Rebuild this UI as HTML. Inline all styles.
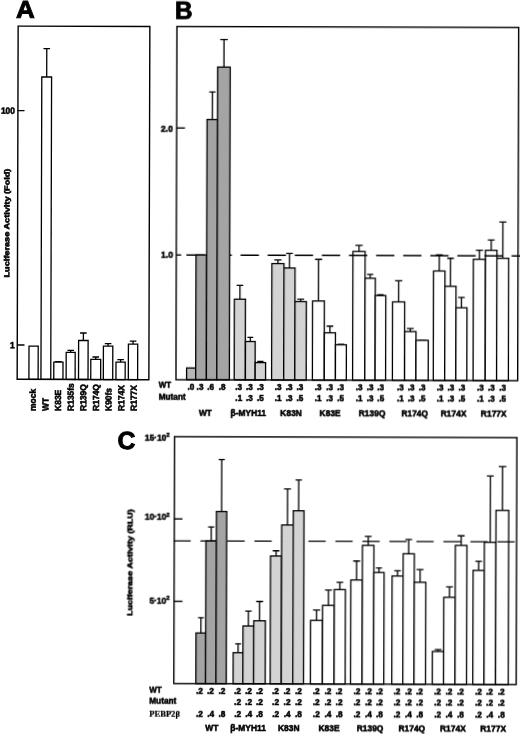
<!DOCTYPE html>
<html><head><meta charset="utf-8"><title>Figure</title>
<style>html,body{margin:0;padding:0;background:#fff}svg{display:block}text{fill:#000}</style>
</head><body>
<svg width="520" height="734" viewBox="0 0 520 734">
<rect width="520" height="734" fill="#fff"/>
<defs><filter id="soft" x="0" y="0" width="520" height="734" filterUnits="userSpaceOnUse"><feGaussianBlur stdDeviation="0.35"/></filter></defs>
<g filter="url(#soft)"><g transform="rotate(0.1604 260.0 367.0)">
<text transform="translate(15.02 18.38) scale(1.06 1)" font-size="24.5" text-anchor="start" font-weight="bold" font-family="'Liberation Sans', sans-serif" stroke="#000" stroke-width="0.9">A</text>
<rect x="28.95" y="346.83" width="9.20" height="33.17" fill="#ffffff" stroke="#000" stroke-width="1.3"/>
<text transform="translate(35.87 411.53) rotate(-90) scale(0.96 1)" font-size="8.8" text-anchor="start" font-weight="bold" font-family="'Liberation Sans', sans-serif" stroke="#000" stroke-width="0.55">mock</text>
<path d="M45.88 77.60V49.20M42.58 49.20H49.18" stroke="#000" stroke-width="1.3" fill="none"/><rect x="40.98" y="77.60" width="9.80" height="302.40" fill="#ffffff" stroke="#000" stroke-width="1.3"/>
<text transform="translate(48.50 411.49) rotate(-90) scale(0.96 1)" font-size="8.8" text-anchor="start" font-weight="bold" font-family="'Liberation Sans', sans-serif" stroke="#000" stroke-width="0.55">WT</text>
<path d="M58.39 362.76V362.16M55.09 362.16H61.69" stroke="#000" stroke-width="1.3" fill="none"/><rect x="53.79" y="362.76" width="9.20" height="17.24" fill="#ffffff" stroke="#000" stroke-width="1.3"/>
<text transform="translate(61.13 411.46) rotate(-90) scale(0.96 1)" font-size="8.8" text-anchor="start" font-weight="bold" font-family="'Liberation Sans', sans-serif" stroke="#000" stroke-width="0.55">K83E</text>
<path d="M70.66 352.93V350.83M67.36 350.83H73.96" stroke="#000" stroke-width="1.3" fill="none"/><rect x="66.16" y="352.93" width="9.00" height="27.07" fill="#ffffff" stroke="#000" stroke-width="1.3"/>
<text transform="translate(73.76 411.42) rotate(-90) scale(0.96 1)" font-size="8.8" text-anchor="start" font-weight="bold" font-family="'Liberation Sans', sans-serif" stroke="#000" stroke-width="0.55">R135fs</text>
<path d="M83.30 340.99V333.49M80.00 333.49H86.60" stroke="#000" stroke-width="1.3" fill="none"/><rect x="78.55" y="340.99" width="9.50" height="39.01" fill="#ffffff" stroke="#000" stroke-width="1.3"/>
<text transform="translate(86.39 411.39) rotate(-90) scale(0.96 1)" font-size="8.8" text-anchor="start" font-weight="bold" font-family="'Liberation Sans', sans-serif" stroke="#000" stroke-width="0.55">R139Q</text>
<path d="M95.73 359.86V357.46M92.43 357.46H99.03" stroke="#000" stroke-width="1.3" fill="none"/><rect x="90.78" y="359.86" width="9.90" height="20.14" fill="#ffffff" stroke="#000" stroke-width="1.3"/>
<text transform="translate(99.02 411.35) rotate(-90) scale(0.96 1)" font-size="8.8" text-anchor="start" font-weight="bold" font-family="'Liberation Sans', sans-serif" stroke="#000" stroke-width="0.55">R174Q</text>
<path d="M108.05 346.63V344.13M104.75 344.13H111.35" stroke="#000" stroke-width="1.3" fill="none"/><rect x="103.35" y="346.63" width="9.40" height="33.37" fill="#ffffff" stroke="#000" stroke-width="1.3"/>
<text transform="translate(111.65 411.32) rotate(-90) scale(0.96 1)" font-size="8.8" text-anchor="start" font-weight="bold" font-family="'Liberation Sans', sans-serif" stroke="#000" stroke-width="0.55">K90fs</text>
<path d="M120.59 362.59V359.99M117.29 359.99H123.89" stroke="#000" stroke-width="1.3" fill="none"/><rect x="115.99" y="362.59" width="9.20" height="17.41" fill="#ffffff" stroke="#000" stroke-width="1.3"/>
<text transform="translate(124.28 411.28) rotate(-90) scale(0.96 1)" font-size="8.8" text-anchor="start" font-weight="bold" font-family="'Liberation Sans', sans-serif" stroke="#000" stroke-width="0.55">R174X</text>
<path d="M133.00 344.56V341.56M129.70 341.56H136.30" stroke="#000" stroke-width="1.3" fill="none"/><rect x="128.35" y="344.56" width="9.30" height="35.44" fill="#ffffff" stroke="#000" stroke-width="1.3"/>
<text transform="translate(136.91 411.24) rotate(-90) scale(0.96 1)" font-size="8.8" text-anchor="start" font-weight="bold" font-family="'Liberation Sans', sans-serif" stroke="#000" stroke-width="0.55">R177X</text>
<rect x="17.2" y="26.85" width="131.70" height="353.15" fill="none" stroke="#000" stroke-width="1.4"/>
<path d="M16.88 111.28H23.78" stroke="#000" stroke-width="1.4" fill="none"/>
<path d="M17.24 345.68H24.44" stroke="#000" stroke-width="1.4" fill="none"/>
<text transform="translate(14.29 114.39) scale(0.94 1)" font-size="9" text-anchor="end" font-weight="bold" font-family="'Liberation Sans', sans-serif" stroke="#000" stroke-width="0.55">100</text>
<text transform="translate(14.55 348.89) scale(0.94 1)" font-size="9" text-anchor="end" font-weight="bold" font-family="'Liberation Sans', sans-serif" stroke="#000" stroke-width="0.55">1</text>
<text transform="translate(8.95 278.20) rotate(-90) scale(1.238 1)" font-size="7.4" text-anchor="start" font-weight="bold" font-family="'Liberation Sans', sans-serif" stroke="#000" stroke-width="0.55">Luciferase Activity (Fold)</text>
<text transform="translate(173.92 18.64)" font-size="24.3" text-anchor="start" font-weight="bold" font-family="'Liberation Sans', sans-serif" stroke="#000" stroke-width="0.9">B</text>
<path d="M175.83 128.23H184.33" stroke="#000" stroke-width="1.4" fill="none"/>
<path d="M175.99 255.23H180.89" stroke="#000" stroke-width="1.4" fill="none"/>
<text transform="translate(172.14 132.44) scale(0.93 1)" font-size="9.2" text-anchor="end" font-weight="bold" font-family="'Liberation Sans', sans-serif" stroke="#000" stroke-width="0.55">2.0</text>
<text transform="translate(172.69 258.14) scale(0.93 1)" font-size="9.2" text-anchor="end" font-weight="bold" font-family="'Liberation Sans', sans-serif" stroke="#000" stroke-width="0.55">1.0</text>
<path d="M318.32 300.84V259.24M314.78 259.24H321.86" stroke="#000" stroke-width="1.3" fill="none"/><rect x="312.42" y="300.84" width="11.80" height="79.11" fill="#ffffff" stroke="#000" stroke-width="1.3"/>
<path d="M329.85 332.60V326.00M326.52 326.00H333.18" stroke="#000" stroke-width="1.3" fill="none"/><rect x="324.30" y="332.60" width="11.10" height="47.35" fill="#ffffff" stroke="#000" stroke-width="1.3"/>
<path d="M340.89 344.57V344.17M337.62 344.17H344.16" stroke="#000" stroke-width="1.3" fill="none"/><rect x="335.44" y="344.57" width="10.90" height="35.38" fill="#ffffff" stroke="#000" stroke-width="1.3"/>
<path d="M358.71 251.22V245.22M355.05 245.22H362.37" stroke="#000" stroke-width="1.3" fill="none"/><rect x="352.61" y="251.22" width="12.20" height="128.73" fill="#ffffff" stroke="#000" stroke-width="1.3"/>
<path d="M369.96 277.99V274.19M366.87 274.19H373.05" stroke="#000" stroke-width="1.3" fill="none"/><rect x="364.81" y="277.99" width="10.30" height="101.96" fill="#ffffff" stroke="#000" stroke-width="1.3"/>
<path d="M380.36 295.26V294.46M377.21 294.46H383.51" stroke="#000" stroke-width="1.3" fill="none"/><rect x="375.11" y="295.26" width="10.50" height="84.69" fill="#ffffff" stroke="#000" stroke-width="1.3"/>
<path d="M398.47 301.51V280.41M394.84 280.41H402.10" stroke="#000" stroke-width="1.3" fill="none"/><rect x="392.42" y="301.51" width="12.10" height="78.44" fill="#ffffff" stroke="#000" stroke-width="1.3"/>
<path d="M410.25 331.18V328.08M406.86 328.08H413.64" stroke="#000" stroke-width="1.3" fill="none"/><rect x="404.60" y="331.18" width="11.30" height="48.77" fill="#ffffff" stroke="#000" stroke-width="1.3"/>
<path d="M422.08 339.85V339.55M418.39 339.55H425.77" stroke="#000" stroke-width="1.3" fill="none"/><rect x="415.93" y="339.85" width="12.30" height="40.10" fill="#ffffff" stroke="#000" stroke-width="1.3"/>
<path d="M439.01 270.50V254.30M435.59 254.30H442.43" stroke="#000" stroke-width="1.3" fill="none"/><rect x="433.31" y="270.50" width="11.40" height="109.45" fill="#ffffff" stroke="#000" stroke-width="1.3"/>
<path d="M450.26 285.77V257.77M446.93 257.77H453.59" stroke="#000" stroke-width="1.3" fill="none"/><rect x="444.71" y="285.77" width="11.10" height="94.18" fill="#ffffff" stroke="#000" stroke-width="1.3"/>
<path d="M461.33 307.24V296.84M458.03 296.84H464.63" stroke="#000" stroke-width="1.3" fill="none"/><rect x="455.83" y="307.24" width="11.00" height="72.71" fill="#ffffff" stroke="#000" stroke-width="1.3"/>
<path d="M479.16 258.69V249.69M475.53 249.69H482.79" stroke="#000" stroke-width="1.3" fill="none"/><rect x="473.11" y="258.69" width="12.10" height="121.26" fill="#ffffff" stroke="#000" stroke-width="1.3"/>
<path d="M490.91 249.65V239.35M487.49 239.35H494.33" stroke="#000" stroke-width="1.3" fill="none"/><rect x="485.21" y="249.65" width="11.40" height="130.30" fill="#ffffff" stroke="#000" stroke-width="1.3"/>
<path d="M502.51 257.62V221.32M498.97 221.32H506.05" stroke="#000" stroke-width="1.3" fill="none"/><rect x="496.61" y="257.62" width="11.80" height="122.33" fill="#ffffff" stroke="#000" stroke-width="1.3"/>
<path d="M186.09 255.21H538.39" stroke="#000" stroke-width="1.4" fill="none" stroke-dasharray="18.3 8.8"/>
<rect x="186.60" y="368.19" width="9.30" height="11.76" fill="#b6b6b6" stroke="#000" stroke-width="1.3"/>
<rect x="195.71" y="255.16" width="10.70" height="124.79" fill="#a4a4a4" stroke="#000" stroke-width="1.3"/>
<path d="M211.61 119.63V92.13M208.49 92.13H214.73" stroke="#000" stroke-width="1.3" fill="none"/><rect x="206.41" y="119.63" width="10.40" height="260.32" fill="#a4a4a4" stroke="#000" stroke-width="1.3"/>
<path d="M223.11 67.20V39.70M219.33 39.70H226.89" stroke="#000" stroke-width="1.3" fill="none"/><rect x="216.81" y="67.20" width="12.60" height="312.75" fill="#a4a4a4" stroke="#000" stroke-width="1.3"/>
<path d="M239.76 299.26V285.46M236.43 285.46H243.09" stroke="#000" stroke-width="1.3" fill="none"/><rect x="234.21" y="299.26" width="11.10" height="80.69" fill="#d3d3d3" stroke="#000" stroke-width="1.3"/>
<path d="M250.28 341.53V337.33M247.37 337.33H253.19" stroke="#000" stroke-width="1.3" fill="none"/><rect x="245.43" y="341.53" width="9.70" height="38.42" fill="#d3d3d3" stroke="#000" stroke-width="1.3"/>
<path d="M260.39 362.60V361.50M257.27 361.50H263.51" stroke="#000" stroke-width="1.3" fill="none"/><rect x="255.19" y="362.60" width="10.40" height="17.35" fill="#d3d3d3" stroke="#000" stroke-width="1.3"/>
<path d="M277.66 263.55V259.95M274.03 259.95H281.29" stroke="#000" stroke-width="1.3" fill="none"/><rect x="271.61" y="263.55" width="12.10" height="116.40" fill="#d3d3d3" stroke="#000" stroke-width="1.3"/>
<path d="M289.26 267.92V253.42M285.93 253.42H292.59" stroke="#000" stroke-width="1.3" fill="none"/><rect x="283.71" y="267.92" width="11.10" height="112.03" fill="#d3d3d3" stroke="#000" stroke-width="1.3"/>
<path d="M300.52 301.49V299.09M297.10 299.09H303.94" stroke="#000" stroke-width="1.3" fill="none"/><rect x="294.82" y="301.49" width="11.40" height="78.46" fill="#d3d3d3" stroke="#000" stroke-width="1.3"/>
<rect x="176.0" y="26.7" width="341.70" height="353.25" fill="none" stroke="#000" stroke-width="1.4"/>
<text transform="translate(158.66 388.28) scale(0.92 1)" font-size="8.7" text-anchor="start" font-weight="bold" font-family="'Liberation Sans', sans-serif" stroke="#000" stroke-width="0.55">WT</text>
<text transform="translate(158.69 399.98) scale(0.95 1)" font-size="8.7" text-anchor="start" font-weight="bold" font-family="'Liberation Sans', sans-serif" stroke="#000" stroke-width="0.55">Mutant</text>
<text transform="translate(190.96 390.15) scale(0.92 1)" font-size="9" text-anchor="middle" font-weight="bold" font-family="'Liberation Sans', sans-serif" stroke="#000" stroke-width="0.55">.0</text>
<text transform="translate(200.06 390.15) scale(0.92 1)" font-size="9" text-anchor="middle" font-weight="bold" font-family="'Liberation Sans', sans-serif" stroke="#000" stroke-width="0.55">.3</text>
<text transform="translate(210.66 390.15) scale(0.92 1)" font-size="9" text-anchor="middle" font-weight="bold" font-family="'Liberation Sans', sans-serif" stroke="#000" stroke-width="0.55">.6</text>
<text transform="translate(222.26 390.15) scale(0.92 1)" font-size="9" text-anchor="middle" font-weight="bold" font-family="'Liberation Sans', sans-serif" stroke="#000" stroke-width="0.55">.8</text>
<text transform="translate(238.76 390.15) scale(0.92 1)" font-size="9" text-anchor="middle" font-weight="bold" font-family="'Liberation Sans', sans-serif" stroke="#000" stroke-width="0.55">.3</text>
<text transform="translate(238.80 401.43) scale(0.92 1)" font-size="9" text-anchor="middle" font-weight="bold" font-family="'Liberation Sans', sans-serif" stroke="#000" stroke-width="0.55">.1</text>
<text transform="translate(249.36 390.15) scale(0.92 1)" font-size="9" text-anchor="middle" font-weight="bold" font-family="'Liberation Sans', sans-serif" stroke="#000" stroke-width="0.55">.3</text>
<text transform="translate(249.40 401.43) scale(0.92 1)" font-size="9" text-anchor="middle" font-weight="bold" font-family="'Liberation Sans', sans-serif" stroke="#000" stroke-width="0.55">.3</text>
<text transform="translate(260.46 390.15) scale(0.92 1)" font-size="9" text-anchor="middle" font-weight="bold" font-family="'Liberation Sans', sans-serif" stroke="#000" stroke-width="0.55">.3</text>
<text transform="translate(260.50 401.43) scale(0.92 1)" font-size="9" text-anchor="middle" font-weight="bold" font-family="'Liberation Sans', sans-serif" stroke="#000" stroke-width="0.55">.5</text>
<text transform="translate(278.16 390.15) scale(0.92 1)" font-size="9" text-anchor="middle" font-weight="bold" font-family="'Liberation Sans', sans-serif" stroke="#000" stroke-width="0.55">.3</text>
<text transform="translate(278.20 401.43) scale(0.92 1)" font-size="9" text-anchor="middle" font-weight="bold" font-family="'Liberation Sans', sans-serif" stroke="#000" stroke-width="0.55">.1</text>
<text transform="translate(289.07 390.15) scale(0.92 1)" font-size="9" text-anchor="middle" font-weight="bold" font-family="'Liberation Sans', sans-serif" stroke="#000" stroke-width="0.55">.3</text>
<text transform="translate(289.10 401.43) scale(0.92 1)" font-size="9" text-anchor="middle" font-weight="bold" font-family="'Liberation Sans', sans-serif" stroke="#000" stroke-width="0.55">.3</text>
<text transform="translate(299.87 390.15) scale(0.92 1)" font-size="9" text-anchor="middle" font-weight="bold" font-family="'Liberation Sans', sans-serif" stroke="#000" stroke-width="0.55">.3</text>
<text transform="translate(299.90 401.43) scale(0.92 1)" font-size="9" text-anchor="middle" font-weight="bold" font-family="'Liberation Sans', sans-serif" stroke="#000" stroke-width="0.55">.5</text>
<text transform="translate(318.17 390.15) scale(0.92 1)" font-size="9" text-anchor="middle" font-weight="bold" font-family="'Liberation Sans', sans-serif" stroke="#000" stroke-width="0.55">.3</text>
<text transform="translate(318.20 401.43) scale(0.92 1)" font-size="9" text-anchor="middle" font-weight="bold" font-family="'Liberation Sans', sans-serif" stroke="#000" stroke-width="0.55">.1</text>
<text transform="translate(329.67 390.15) scale(0.92 1)" font-size="9" text-anchor="middle" font-weight="bold" font-family="'Liberation Sans', sans-serif" stroke="#000" stroke-width="0.55">.3</text>
<text transform="translate(329.70 401.43) scale(0.92 1)" font-size="9" text-anchor="middle" font-weight="bold" font-family="'Liberation Sans', sans-serif" stroke="#000" stroke-width="0.55">.3</text>
<text transform="translate(340.57 390.15) scale(0.92 1)" font-size="9" text-anchor="middle" font-weight="bold" font-family="'Liberation Sans', sans-serif" stroke="#000" stroke-width="0.55">.3</text>
<text transform="translate(340.60 401.43) scale(0.92 1)" font-size="9" text-anchor="middle" font-weight="bold" font-family="'Liberation Sans', sans-serif" stroke="#000" stroke-width="0.55">.5</text>
<text transform="translate(359.07 390.15) scale(0.92 1)" font-size="9" text-anchor="middle" font-weight="bold" font-family="'Liberation Sans', sans-serif" stroke="#000" stroke-width="0.55">.3</text>
<text transform="translate(359.10 401.43) scale(0.92 1)" font-size="9" text-anchor="middle" font-weight="bold" font-family="'Liberation Sans', sans-serif" stroke="#000" stroke-width="0.55">.1</text>
<text transform="translate(370.07 390.15) scale(0.92 1)" font-size="9" text-anchor="middle" font-weight="bold" font-family="'Liberation Sans', sans-serif" stroke="#000" stroke-width="0.55">.3</text>
<text transform="translate(370.10 401.43) scale(0.92 1)" font-size="9" text-anchor="middle" font-weight="bold" font-family="'Liberation Sans', sans-serif" stroke="#000" stroke-width="0.55">.3</text>
<text transform="translate(380.77 390.15) scale(0.92 1)" font-size="9" text-anchor="middle" font-weight="bold" font-family="'Liberation Sans', sans-serif" stroke="#000" stroke-width="0.55">.3</text>
<text transform="translate(380.80 401.43) scale(0.92 1)" font-size="9" text-anchor="middle" font-weight="bold" font-family="'Liberation Sans', sans-serif" stroke="#000" stroke-width="0.55">.5</text>
<text transform="translate(400.47 390.15) scale(0.92 1)" font-size="9" text-anchor="middle" font-weight="bold" font-family="'Liberation Sans', sans-serif" stroke="#000" stroke-width="0.55">.3</text>
<text transform="translate(400.50 401.43) scale(0.92 1)" font-size="9" text-anchor="middle" font-weight="bold" font-family="'Liberation Sans', sans-serif" stroke="#000" stroke-width="0.55">.1</text>
<text transform="translate(411.07 390.15) scale(0.92 1)" font-size="9" text-anchor="middle" font-weight="bold" font-family="'Liberation Sans', sans-serif" stroke="#000" stroke-width="0.55">.3</text>
<text transform="translate(411.10 401.43) scale(0.92 1)" font-size="9" text-anchor="middle" font-weight="bold" font-family="'Liberation Sans', sans-serif" stroke="#000" stroke-width="0.55">.3</text>
<text transform="translate(422.17 390.15) scale(0.92 1)" font-size="9" text-anchor="middle" font-weight="bold" font-family="'Liberation Sans', sans-serif" stroke="#000" stroke-width="0.55">.3</text>
<text transform="translate(422.20 401.43) scale(0.92 1)" font-size="9" text-anchor="middle" font-weight="bold" font-family="'Liberation Sans', sans-serif" stroke="#000" stroke-width="0.55">.5</text>
<text transform="translate(440.07 390.15) scale(0.92 1)" font-size="9" text-anchor="middle" font-weight="bold" font-family="'Liberation Sans', sans-serif" stroke="#000" stroke-width="0.55">.3</text>
<text transform="translate(440.10 401.43) scale(0.92 1)" font-size="9" text-anchor="middle" font-weight="bold" font-family="'Liberation Sans', sans-serif" stroke="#000" stroke-width="0.55">.1</text>
<text transform="translate(450.97 390.15) scale(0.92 1)" font-size="9" text-anchor="middle" font-weight="bold" font-family="'Liberation Sans', sans-serif" stroke="#000" stroke-width="0.55">.3</text>
<text transform="translate(451.00 401.43) scale(0.92 1)" font-size="9" text-anchor="middle" font-weight="bold" font-family="'Liberation Sans', sans-serif" stroke="#000" stroke-width="0.55">.3</text>
<text transform="translate(461.97 390.15) scale(0.92 1)" font-size="9" text-anchor="middle" font-weight="bold" font-family="'Liberation Sans', sans-serif" stroke="#000" stroke-width="0.55">.3</text>
<text transform="translate(462.00 401.43) scale(0.92 1)" font-size="9" text-anchor="middle" font-weight="bold" font-family="'Liberation Sans', sans-serif" stroke="#000" stroke-width="0.55">.5</text>
<text transform="translate(480.37 390.15) scale(0.92 1)" font-size="9" text-anchor="middle" font-weight="bold" font-family="'Liberation Sans', sans-serif" stroke="#000" stroke-width="0.55">.3</text>
<text transform="translate(480.40 401.43) scale(0.92 1)" font-size="9" text-anchor="middle" font-weight="bold" font-family="'Liberation Sans', sans-serif" stroke="#000" stroke-width="0.55">.1</text>
<text transform="translate(491.37 390.15) scale(0.92 1)" font-size="9" text-anchor="middle" font-weight="bold" font-family="'Liberation Sans', sans-serif" stroke="#000" stroke-width="0.55">.3</text>
<text transform="translate(491.40 401.43) scale(0.92 1)" font-size="9" text-anchor="middle" font-weight="bold" font-family="'Liberation Sans', sans-serif" stroke="#000" stroke-width="0.55">.3</text>
<text transform="translate(502.57 390.15) scale(0.92 1)" font-size="9" text-anchor="middle" font-weight="bold" font-family="'Liberation Sans', sans-serif" stroke="#000" stroke-width="0.55">.3</text>
<text transform="translate(502.60 401.43) scale(0.92 1)" font-size="9" text-anchor="middle" font-weight="bold" font-family="'Liberation Sans', sans-serif" stroke="#000" stroke-width="0.55">.5</text>
<text transform="translate(205.44 416.33) scale(0.96 1)" font-size="8.8" text-anchor="middle" font-weight="bold" font-family="'Liberation Sans', sans-serif" stroke="#000" stroke-width="0.55">WT</text>
<text transform="translate(248.34 416.33) scale(0.96 1)" font-size="8.8" text-anchor="middle" font-weight="bold" font-family="'Liberation Sans', sans-serif" stroke="#000" stroke-width="0.55">β-MYH11</text>
<text transform="translate(291.14 416.33) scale(0.96 1)" font-size="8.8" text-anchor="middle" font-weight="bold" font-family="'Liberation Sans', sans-serif" stroke="#000" stroke-width="0.55">K83N</text>
<text transform="translate(330.14 416.33) scale(0.96 1)" font-size="8.8" text-anchor="middle" font-weight="bold" font-family="'Liberation Sans', sans-serif" stroke="#000" stroke-width="0.55">K83E</text>
<text transform="translate(372.14 416.33) scale(0.96 1)" font-size="8.8" text-anchor="middle" font-weight="bold" font-family="'Liberation Sans', sans-serif" stroke="#000" stroke-width="0.55">R139Q</text>
<text transform="translate(414.74 416.33) scale(0.96 1)" font-size="8.8" text-anchor="middle" font-weight="bold" font-family="'Liberation Sans', sans-serif" stroke="#000" stroke-width="0.55">R174Q</text>
<text transform="translate(453.64 416.33) scale(0.96 1)" font-size="8.8" text-anchor="middle" font-weight="bold" font-family="'Liberation Sans', sans-serif" stroke="#000" stroke-width="0.55">R174X</text>
<text transform="translate(493.74 416.33) scale(0.96 1)" font-size="8.8" text-anchor="middle" font-weight="bold" font-family="'Liberation Sans', sans-serif" stroke="#000" stroke-width="0.55">R177X</text>
<text transform="translate(117.63 449.40)" font-size="24.8" text-anchor="start" font-weight="bold" font-family="'Liberation Sans', sans-serif" stroke="#000" stroke-width="0.9">C</text>
<path d="M174.73 519.14H182.93" stroke="#000" stroke-width="1.4" fill="none"/>
<path d="M174.66 601.54H183.16" stroke="#000" stroke-width="1.4" fill="none"/>
<text transform="translate(169.81 440.75)" font-size="8.4" text-anchor="end" font-weight="bold" font-family="'Liberation Sans', sans-serif" stroke="#000" stroke-width="0.5">15·10<tspan dy="-3.6" font-size="6">2</tspan></text>
<text transform="translate(170.03 520.45)" font-size="8.4" text-anchor="end" font-weight="bold" font-family="'Liberation Sans', sans-serif" stroke="#000" stroke-width="0.5">10·10<tspan dy="-3.6" font-size="6">2</tspan></text>
<text transform="translate(170.26 603.75)" font-size="8.4" text-anchor="end" font-weight="bold" font-family="'Liberation Sans', sans-serif" stroke="#000" stroke-width="0.5">5·10<tspan dy="-3.6" font-size="6">2</tspan></text>
<text transform="translate(132.80 616.36) rotate(-90) scale(1.22 1)" font-size="7.4" text-anchor="start" font-weight="bold" font-family="'Liberation Sans', sans-serif" stroke="#000" stroke-width="0.55">Luciferase Activity (RLU)</text>
<path d="M317.31 620.24V609.84M313.71 609.84H320.91" stroke="#000" stroke-width="1.3" fill="none"/><rect x="311.31" y="620.24" width="12.00" height="63.56" fill="#ffffff" stroke="#000" stroke-width="1.3"/>
<path d="M329.12 605.21V589.81M325.61 589.81H332.63" stroke="#000" stroke-width="1.3" fill="none"/><rect x="323.27" y="605.21" width="11.70" height="78.59" fill="#ffffff" stroke="#000" stroke-width="1.3"/>
<path d="M340.50 589.38V582.08M337.17 582.08H343.83" stroke="#000" stroke-width="1.3" fill="none"/><rect x="334.95" y="589.38" width="11.10" height="94.42" fill="#ffffff" stroke="#000" stroke-width="1.3"/>
<path d="M357.20 579.73V560.73M353.75 560.73H360.65" stroke="#000" stroke-width="1.3" fill="none"/><rect x="351.45" y="579.73" width="11.50" height="104.07" fill="#ffffff" stroke="#000" stroke-width="1.3"/>
<path d="M368.70 545.10V536.20M365.25 536.20H372.15" stroke="#000" stroke-width="1.3" fill="none"/><rect x="362.95" y="545.10" width="11.50" height="138.70" fill="#ffffff" stroke="#000" stroke-width="1.3"/>
<path d="M379.55 572.17V567.67M376.49 567.67H382.61" stroke="#000" stroke-width="1.3" fill="none"/><rect x="374.45" y="572.17" width="10.20" height="111.63" fill="#ffffff" stroke="#000" stroke-width="1.3"/>
<path d="M398.15 575.62V570.41M394.85 570.41H401.45" stroke="#000" stroke-width="1.3" fill="none"/><rect x="392.65" y="575.62" width="11.00" height="108.18" fill="#ffffff" stroke="#000" stroke-width="1.3"/>
<path d="M409.25 553.38V539.18M405.89 539.18H412.61" stroke="#000" stroke-width="1.3" fill="none"/><rect x="403.65" y="553.38" width="11.20" height="130.42" fill="#ffffff" stroke="#000" stroke-width="1.3"/>
<path d="M420.65 581.85V569.15M417.17 569.15H424.13" stroke="#000" stroke-width="1.3" fill="none"/><rect x="414.85" y="581.85" width="11.60" height="101.95" fill="#ffffff" stroke="#000" stroke-width="1.3"/>
<path d="M438.90 651.00V649.10M435.48 649.10H442.32" stroke="#000" stroke-width="1.3" fill="none"/><rect x="433.20" y="651.00" width="11.40" height="32.80" fill="#ffffff" stroke="#000" stroke-width="1.3"/>
<path d="M450.15 596.77V586.47M446.73 586.47H453.57" stroke="#000" stroke-width="1.3" fill="none"/><rect x="444.45" y="596.77" width="11.40" height="87.03" fill="#ffffff" stroke="#000" stroke-width="1.3"/>
<path d="M461.65 544.84V535.24M458.17 535.24H465.13" stroke="#000" stroke-width="1.3" fill="none"/><rect x="455.85" y="544.84" width="11.60" height="138.96" fill="#ffffff" stroke="#000" stroke-width="1.3"/>
<path d="M479.25 569.79V560.59M475.89 560.59H482.61" stroke="#000" stroke-width="1.3" fill="none"/><rect x="473.65" y="569.79" width="11.20" height="114.01" fill="#ffffff" stroke="#000" stroke-width="1.3"/>
<path d="M490.65 541.66V475.36M487.17 475.36H494.13" stroke="#000" stroke-width="1.3" fill="none"/><rect x="484.85" y="541.66" width="11.60" height="142.14" fill="#ffffff" stroke="#000" stroke-width="1.3"/>
<path d="M502.80 509.72V465.82M498.99 465.82H506.61" stroke="#000" stroke-width="1.3" fill="none"/><rect x="496.45" y="509.72" width="12.70" height="174.08" fill="#ffffff" stroke="#000" stroke-width="1.3"/>
<path d="M173.89 541.14H524.89" stroke="#000" stroke-width="1.4" fill="none" stroke-dasharray="17.3 9.7"/>
<path d="M201.64 633.17V617.87M198.70 617.87H204.58" stroke="#000" stroke-width="1.3" fill="none"/><rect x="196.74" y="633.17" width="9.80" height="50.63" fill="#a4a4a4" stroke="#000" stroke-width="1.3"/>
<path d="M211.65 541.14V527.14M208.53 527.14H214.77" stroke="#000" stroke-width="1.3" fill="none"/><rect x="206.45" y="541.14" width="10.40" height="142.66" fill="#a4a4a4" stroke="#000" stroke-width="1.3"/>
<path d="M222.00 511.61V459.71M218.91 459.71H225.09" stroke="#000" stroke-width="1.3" fill="none"/><rect x="216.85" y="511.61" width="10.30" height="172.19" fill="#a4a4a4" stroke="#000" stroke-width="1.3"/>
<path d="M238.90 652.76V643.86M235.96 643.86H241.84" stroke="#000" stroke-width="1.3" fill="none"/><rect x="234.00" y="652.76" width="9.80" height="31.04" fill="#d3d3d3" stroke="#000" stroke-width="1.3"/>
<path d="M249.13 626.03V611.03M245.89 611.03H252.37" stroke="#000" stroke-width="1.3" fill="none"/><rect x="243.73" y="626.03" width="10.80" height="57.77" fill="#d3d3d3" stroke="#000" stroke-width="1.3"/>
<path d="M260.31 620.80V601.50M256.83 601.50H263.79" stroke="#000" stroke-width="1.3" fill="none"/><rect x="254.51" y="620.80" width="11.60" height="63.00" fill="#d3d3d3" stroke="#000" stroke-width="1.3"/>
<path d="M276.60 555.96V550.76M273.27 550.76H279.93" stroke="#000" stroke-width="1.3" fill="none"/><rect x="271.05" y="555.96" width="11.10" height="127.84" fill="#d3d3d3" stroke="#000" stroke-width="1.3"/>
<path d="M287.90 524.92V488.92M284.45 488.92H291.35" stroke="#000" stroke-width="1.3" fill="none"/><rect x="282.15" y="524.92" width="11.50" height="158.88" fill="#d3d3d3" stroke="#000" stroke-width="1.3"/>
<path d="M299.05 510.69V479.89M295.81 479.89H302.29" stroke="#000" stroke-width="1.3" fill="none"/><rect x="293.65" y="510.69" width="10.80" height="173.11" fill="#d3d3d3" stroke="#000" stroke-width="1.3"/>
<rect x="174.7" y="436.9" width="342.40" height="246.90" fill="none" stroke="#000" stroke-width="1.4"/>
<text transform="translate(150.21 693.31) scale(0.92 1)" font-size="8.7" text-anchor="start" font-weight="bold" font-family="'Liberation Sans', sans-serif" stroke="#000" stroke-width="0.55">WT</text>
<text transform="translate(150.24 704.31) scale(0.95 1)" font-size="8.7" text-anchor="start" font-weight="bold" font-family="'Liberation Sans', sans-serif" stroke="#000" stroke-width="0.55">Mutant</text>
<text transform="translate(150.28 717.11) scale(0.93 1)" font-size="9.2" text-anchor="start" font-weight="bold" font-family="'Liberation Serif', serif" stroke="#000" stroke-width="0.25">PEBP2β</text>
<text transform="translate(200.32 694.08) scale(0.92 1)" font-size="9" text-anchor="middle" font-weight="bold" font-family="'Liberation Sans', sans-serif" stroke="#000" stroke-width="0.55">.2</text>
<text transform="translate(200.38 716.88) scale(0.92 1)" font-size="9" text-anchor="middle" font-weight="bold" font-family="'Liberation Sans', sans-serif" stroke="#000" stroke-width="0.55">.2</text>
<text transform="translate(211.52 694.08) scale(0.92 1)" font-size="9" text-anchor="middle" font-weight="bold" font-family="'Liberation Sans', sans-serif" stroke="#000" stroke-width="0.55">.2</text>
<text transform="translate(211.58 716.88) scale(0.92 1)" font-size="9" text-anchor="middle" font-weight="bold" font-family="'Liberation Sans', sans-serif" stroke="#000" stroke-width="0.55">.4</text>
<text transform="translate(222.82 694.08) scale(0.92 1)" font-size="9" text-anchor="middle" font-weight="bold" font-family="'Liberation Sans', sans-serif" stroke="#000" stroke-width="0.55">.2</text>
<text transform="translate(222.88 716.88) scale(0.92 1)" font-size="9" text-anchor="middle" font-weight="bold" font-family="'Liberation Sans', sans-serif" stroke="#000" stroke-width="0.55">.8</text>
<text transform="translate(238.52 694.08) scale(0.92 1)" font-size="9" text-anchor="middle" font-weight="bold" font-family="'Liberation Sans', sans-serif" stroke="#000" stroke-width="0.55">.2</text>
<text transform="translate(238.55 705.08) scale(0.92 1)" font-size="9" text-anchor="middle" font-weight="bold" font-family="'Liberation Sans', sans-serif" stroke="#000" stroke-width="0.55">.2</text>
<text transform="translate(238.58 716.88) scale(0.92 1)" font-size="9" text-anchor="middle" font-weight="bold" font-family="'Liberation Sans', sans-serif" stroke="#000" stroke-width="0.55">.2</text>
<text transform="translate(249.52 694.08) scale(0.92 1)" font-size="9" text-anchor="middle" font-weight="bold" font-family="'Liberation Sans', sans-serif" stroke="#000" stroke-width="0.55">.2</text>
<text transform="translate(249.55 705.08) scale(0.92 1)" font-size="9" text-anchor="middle" font-weight="bold" font-family="'Liberation Sans', sans-serif" stroke="#000" stroke-width="0.55">.2</text>
<text transform="translate(249.58 716.88) scale(0.92 1)" font-size="9" text-anchor="middle" font-weight="bold" font-family="'Liberation Sans', sans-serif" stroke="#000" stroke-width="0.55">.4</text>
<text transform="translate(260.32 694.08) scale(0.92 1)" font-size="9" text-anchor="middle" font-weight="bold" font-family="'Liberation Sans', sans-serif" stroke="#000" stroke-width="0.55">.2</text>
<text transform="translate(260.35 705.08) scale(0.92 1)" font-size="9" text-anchor="middle" font-weight="bold" font-family="'Liberation Sans', sans-serif" stroke="#000" stroke-width="0.55">.2</text>
<text transform="translate(260.38 716.88) scale(0.92 1)" font-size="9" text-anchor="middle" font-weight="bold" font-family="'Liberation Sans', sans-serif" stroke="#000" stroke-width="0.55">.8</text>
<text transform="translate(276.52 694.08) scale(0.92 1)" font-size="9" text-anchor="middle" font-weight="bold" font-family="'Liberation Sans', sans-serif" stroke="#000" stroke-width="0.55">.2</text>
<text transform="translate(276.55 705.08) scale(0.92 1)" font-size="9" text-anchor="middle" font-weight="bold" font-family="'Liberation Sans', sans-serif" stroke="#000" stroke-width="0.55">.2</text>
<text transform="translate(276.58 716.88) scale(0.92 1)" font-size="9" text-anchor="middle" font-weight="bold" font-family="'Liberation Sans', sans-serif" stroke="#000" stroke-width="0.55">.2</text>
<text transform="translate(288.02 694.08) scale(0.92 1)" font-size="9" text-anchor="middle" font-weight="bold" font-family="'Liberation Sans', sans-serif" stroke="#000" stroke-width="0.55">.2</text>
<text transform="translate(288.05 705.08) scale(0.92 1)" font-size="9" text-anchor="middle" font-weight="bold" font-family="'Liberation Sans', sans-serif" stroke="#000" stroke-width="0.55">.2</text>
<text transform="translate(288.08 716.88) scale(0.92 1)" font-size="9" text-anchor="middle" font-weight="bold" font-family="'Liberation Sans', sans-serif" stroke="#000" stroke-width="0.55">.4</text>
<text transform="translate(299.32 694.08) scale(0.92 1)" font-size="9" text-anchor="middle" font-weight="bold" font-family="'Liberation Sans', sans-serif" stroke="#000" stroke-width="0.55">.2</text>
<text transform="translate(299.35 705.08) scale(0.92 1)" font-size="9" text-anchor="middle" font-weight="bold" font-family="'Liberation Sans', sans-serif" stroke="#000" stroke-width="0.55">.2</text>
<text transform="translate(299.38 716.88) scale(0.92 1)" font-size="9" text-anchor="middle" font-weight="bold" font-family="'Liberation Sans', sans-serif" stroke="#000" stroke-width="0.55">.8</text>
<text transform="translate(317.22 694.08) scale(0.92 1)" font-size="9" text-anchor="middle" font-weight="bold" font-family="'Liberation Sans', sans-serif" stroke="#000" stroke-width="0.55">.2</text>
<text transform="translate(317.25 705.08) scale(0.92 1)" font-size="9" text-anchor="middle" font-weight="bold" font-family="'Liberation Sans', sans-serif" stroke="#000" stroke-width="0.55">.2</text>
<text transform="translate(317.28 716.88) scale(0.92 1)" font-size="9" text-anchor="middle" font-weight="bold" font-family="'Liberation Sans', sans-serif" stroke="#000" stroke-width="0.55">.2</text>
<text transform="translate(328.82 694.08) scale(0.92 1)" font-size="9" text-anchor="middle" font-weight="bold" font-family="'Liberation Sans', sans-serif" stroke="#000" stroke-width="0.55">.2</text>
<text transform="translate(328.85 705.08) scale(0.92 1)" font-size="9" text-anchor="middle" font-weight="bold" font-family="'Liberation Sans', sans-serif" stroke="#000" stroke-width="0.55">.2</text>
<text transform="translate(328.88 716.88) scale(0.92 1)" font-size="9" text-anchor="middle" font-weight="bold" font-family="'Liberation Sans', sans-serif" stroke="#000" stroke-width="0.55">.4</text>
<text transform="translate(340.02 694.08) scale(0.92 1)" font-size="9" text-anchor="middle" font-weight="bold" font-family="'Liberation Sans', sans-serif" stroke="#000" stroke-width="0.55">.2</text>
<text transform="translate(340.05 705.08) scale(0.92 1)" font-size="9" text-anchor="middle" font-weight="bold" font-family="'Liberation Sans', sans-serif" stroke="#000" stroke-width="0.55">.2</text>
<text transform="translate(340.08 716.88) scale(0.92 1)" font-size="9" text-anchor="middle" font-weight="bold" font-family="'Liberation Sans', sans-serif" stroke="#000" stroke-width="0.55">.8</text>
<text transform="translate(357.82 694.08) scale(0.92 1)" font-size="9" text-anchor="middle" font-weight="bold" font-family="'Liberation Sans', sans-serif" stroke="#000" stroke-width="0.55">.2</text>
<text transform="translate(357.85 705.08) scale(0.92 1)" font-size="9" text-anchor="middle" font-weight="bold" font-family="'Liberation Sans', sans-serif" stroke="#000" stroke-width="0.55">.2</text>
<text transform="translate(357.88 716.88) scale(0.92 1)" font-size="9" text-anchor="middle" font-weight="bold" font-family="'Liberation Sans', sans-serif" stroke="#000" stroke-width="0.55">.2</text>
<text transform="translate(369.42 694.08) scale(0.92 1)" font-size="9" text-anchor="middle" font-weight="bold" font-family="'Liberation Sans', sans-serif" stroke="#000" stroke-width="0.55">.2</text>
<text transform="translate(369.45 705.08) scale(0.92 1)" font-size="9" text-anchor="middle" font-weight="bold" font-family="'Liberation Sans', sans-serif" stroke="#000" stroke-width="0.55">.2</text>
<text transform="translate(369.48 716.88) scale(0.92 1)" font-size="9" text-anchor="middle" font-weight="bold" font-family="'Liberation Sans', sans-serif" stroke="#000" stroke-width="0.55">.4</text>
<text transform="translate(380.32 694.08) scale(0.92 1)" font-size="9" text-anchor="middle" font-weight="bold" font-family="'Liberation Sans', sans-serif" stroke="#000" stroke-width="0.55">.2</text>
<text transform="translate(380.35 705.08) scale(0.92 1)" font-size="9" text-anchor="middle" font-weight="bold" font-family="'Liberation Sans', sans-serif" stroke="#000" stroke-width="0.55">.2</text>
<text transform="translate(380.38 716.88) scale(0.92 1)" font-size="9" text-anchor="middle" font-weight="bold" font-family="'Liberation Sans', sans-serif" stroke="#000" stroke-width="0.55">.8</text>
<text transform="translate(397.82 694.08) scale(0.92 1)" font-size="9" text-anchor="middle" font-weight="bold" font-family="'Liberation Sans', sans-serif" stroke="#000" stroke-width="0.55">.2</text>
<text transform="translate(397.85 705.08) scale(0.92 1)" font-size="9" text-anchor="middle" font-weight="bold" font-family="'Liberation Sans', sans-serif" stroke="#000" stroke-width="0.55">.2</text>
<text transform="translate(397.88 716.88) scale(0.92 1)" font-size="9" text-anchor="middle" font-weight="bold" font-family="'Liberation Sans', sans-serif" stroke="#000" stroke-width="0.55">.2</text>
<text transform="translate(409.32 694.08) scale(0.92 1)" font-size="9" text-anchor="middle" font-weight="bold" font-family="'Liberation Sans', sans-serif" stroke="#000" stroke-width="0.55">.2</text>
<text transform="translate(409.35 705.08) scale(0.92 1)" font-size="9" text-anchor="middle" font-weight="bold" font-family="'Liberation Sans', sans-serif" stroke="#000" stroke-width="0.55">.2</text>
<text transform="translate(409.38 716.88) scale(0.92 1)" font-size="9" text-anchor="middle" font-weight="bold" font-family="'Liberation Sans', sans-serif" stroke="#000" stroke-width="0.55">.4</text>
<text transform="translate(420.52 694.08) scale(0.92 1)" font-size="9" text-anchor="middle" font-weight="bold" font-family="'Liberation Sans', sans-serif" stroke="#000" stroke-width="0.55">.2</text>
<text transform="translate(420.55 705.08) scale(0.92 1)" font-size="9" text-anchor="middle" font-weight="bold" font-family="'Liberation Sans', sans-serif" stroke="#000" stroke-width="0.55">.2</text>
<text transform="translate(420.58 716.88) scale(0.92 1)" font-size="9" text-anchor="middle" font-weight="bold" font-family="'Liberation Sans', sans-serif" stroke="#000" stroke-width="0.55">.8</text>
<text transform="translate(438.52 694.08) scale(0.92 1)" font-size="9" text-anchor="middle" font-weight="bold" font-family="'Liberation Sans', sans-serif" stroke="#000" stroke-width="0.55">.2</text>
<text transform="translate(438.55 705.08) scale(0.92 1)" font-size="9" text-anchor="middle" font-weight="bold" font-family="'Liberation Sans', sans-serif" stroke="#000" stroke-width="0.55">.2</text>
<text transform="translate(438.58 716.88) scale(0.92 1)" font-size="9" text-anchor="middle" font-weight="bold" font-family="'Liberation Sans', sans-serif" stroke="#000" stroke-width="0.55">.2</text>
<text transform="translate(449.92 694.08) scale(0.92 1)" font-size="9" text-anchor="middle" font-weight="bold" font-family="'Liberation Sans', sans-serif" stroke="#000" stroke-width="0.55">.2</text>
<text transform="translate(449.95 705.08) scale(0.92 1)" font-size="9" text-anchor="middle" font-weight="bold" font-family="'Liberation Sans', sans-serif" stroke="#000" stroke-width="0.55">.2</text>
<text transform="translate(449.98 716.88) scale(0.92 1)" font-size="9" text-anchor="middle" font-weight="bold" font-family="'Liberation Sans', sans-serif" stroke="#000" stroke-width="0.55">.4</text>
<text transform="translate(461.32 694.08) scale(0.92 1)" font-size="9" text-anchor="middle" font-weight="bold" font-family="'Liberation Sans', sans-serif" stroke="#000" stroke-width="0.55">.2</text>
<text transform="translate(461.35 705.08) scale(0.92 1)" font-size="9" text-anchor="middle" font-weight="bold" font-family="'Liberation Sans', sans-serif" stroke="#000" stroke-width="0.55">.2</text>
<text transform="translate(461.38 716.88) scale(0.92 1)" font-size="9" text-anchor="middle" font-weight="bold" font-family="'Liberation Sans', sans-serif" stroke="#000" stroke-width="0.55">.8</text>
<text transform="translate(479.32 694.08) scale(0.92 1)" font-size="9" text-anchor="middle" font-weight="bold" font-family="'Liberation Sans', sans-serif" stroke="#000" stroke-width="0.55">.2</text>
<text transform="translate(479.35 705.08) scale(0.92 1)" font-size="9" text-anchor="middle" font-weight="bold" font-family="'Liberation Sans', sans-serif" stroke="#000" stroke-width="0.55">.2</text>
<text transform="translate(479.38 716.88) scale(0.92 1)" font-size="9" text-anchor="middle" font-weight="bold" font-family="'Liberation Sans', sans-serif" stroke="#000" stroke-width="0.55">.2</text>
<text transform="translate(490.52 694.08) scale(0.92 1)" font-size="9" text-anchor="middle" font-weight="bold" font-family="'Liberation Sans', sans-serif" stroke="#000" stroke-width="0.55">.2</text>
<text transform="translate(490.55 705.08) scale(0.92 1)" font-size="9" text-anchor="middle" font-weight="bold" font-family="'Liberation Sans', sans-serif" stroke="#000" stroke-width="0.55">.2</text>
<text transform="translate(490.58 716.88) scale(0.92 1)" font-size="9" text-anchor="middle" font-weight="bold" font-family="'Liberation Sans', sans-serif" stroke="#000" stroke-width="0.55">.4</text>
<text transform="translate(502.22 694.08) scale(0.92 1)" font-size="9" text-anchor="middle" font-weight="bold" font-family="'Liberation Sans', sans-serif" stroke="#000" stroke-width="0.55">.2</text>
<text transform="translate(502.25 705.08) scale(0.92 1)" font-size="9" text-anchor="middle" font-weight="bold" font-family="'Liberation Sans', sans-serif" stroke="#000" stroke-width="0.55">.2</text>
<text transform="translate(502.28 716.88) scale(0.92 1)" font-size="9" text-anchor="middle" font-weight="bold" font-family="'Liberation Sans', sans-serif" stroke="#000" stroke-width="0.55">.8</text>
<text transform="translate(212.82 730.83) scale(0.96 1)" font-size="8.8" text-anchor="middle" font-weight="bold" font-family="'Liberation Sans', sans-serif" stroke="#000" stroke-width="0.55">WT</text>
<text transform="translate(249.12 730.83) scale(0.96 1)" font-size="8.8" text-anchor="middle" font-weight="bold" font-family="'Liberation Sans', sans-serif" stroke="#000" stroke-width="0.55">β-MYH11</text>
<text transform="translate(289.72 730.83) scale(0.96 1)" font-size="8.8" text-anchor="middle" font-weight="bold" font-family="'Liberation Sans', sans-serif" stroke="#000" stroke-width="0.55">K83N</text>
<text transform="translate(330.02 730.83) scale(0.96 1)" font-size="8.8" text-anchor="middle" font-weight="bold" font-family="'Liberation Sans', sans-serif" stroke="#000" stroke-width="0.55">K83E</text>
<text transform="translate(371.02 730.83) scale(0.96 1)" font-size="8.8" text-anchor="middle" font-weight="bold" font-family="'Liberation Sans', sans-serif" stroke="#000" stroke-width="0.55">R139Q</text>
<text transform="translate(412.82 730.83) scale(0.96 1)" font-size="8.8" text-anchor="middle" font-weight="bold" font-family="'Liberation Sans', sans-serif" stroke="#000" stroke-width="0.55">R174Q</text>
<text transform="translate(453.92 730.83) scale(0.96 1)" font-size="8.8" text-anchor="middle" font-weight="bold" font-family="'Liberation Sans', sans-serif" stroke="#000" stroke-width="0.55">R174X</text>
<text transform="translate(494.12 730.83) scale(0.96 1)" font-size="8.8" text-anchor="middle" font-weight="bold" font-family="'Liberation Sans', sans-serif" stroke="#000" stroke-width="0.55">R177X</text>
</g></g>
</svg>
</body></html>
